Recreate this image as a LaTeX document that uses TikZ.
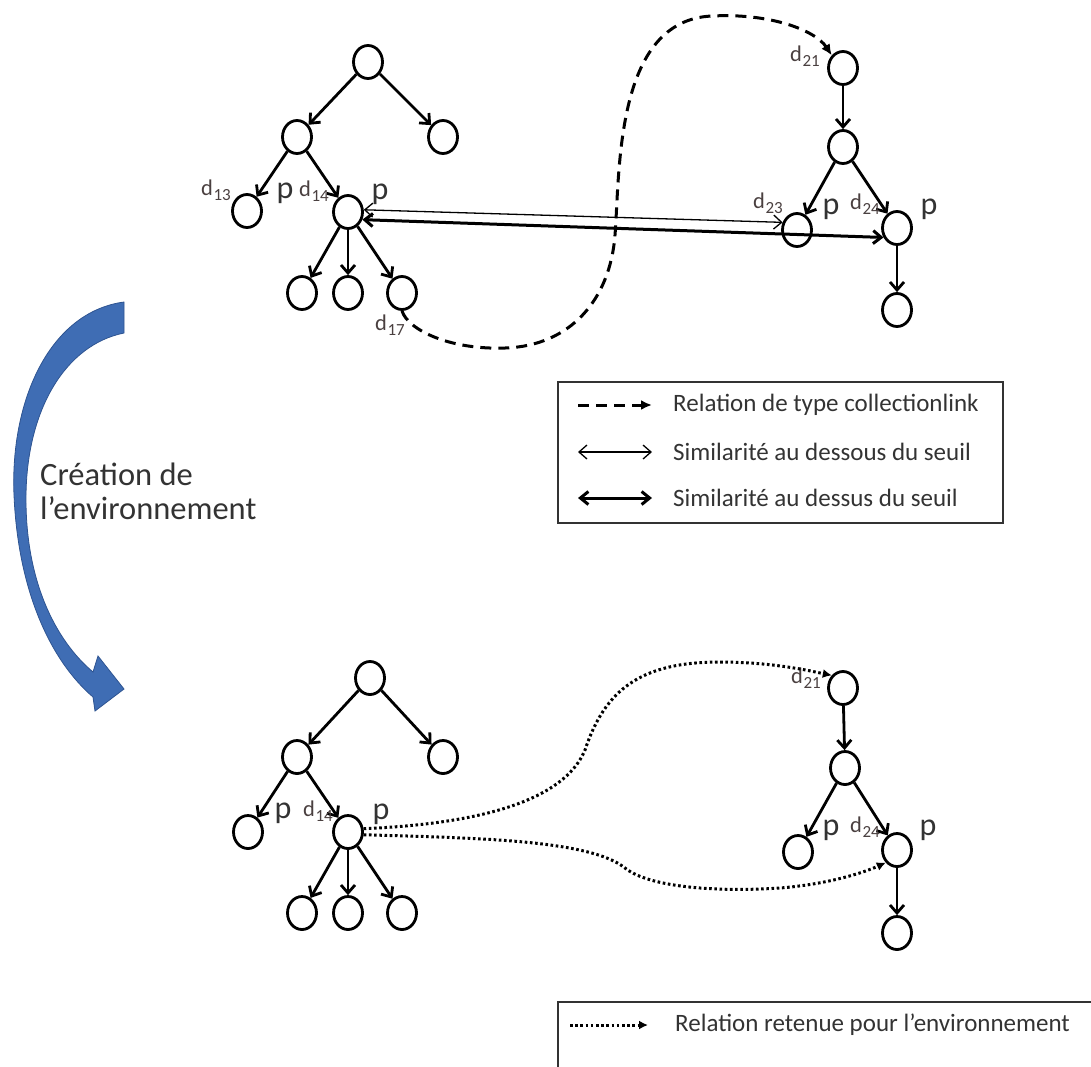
\documentclass[tikz,border=0pt]{standalone}
\usepackage{fontspec}
\setmainfont{Carlito}
\usetikzlibrary{arrows.meta,shapes.geometric}
\definecolor{txtgray}{HTML}{333333}
\definecolor{labgray}{HTML}{4A4040}
\definecolor{bluefill}{HTML}{3F6DB4}
\definecolor{blueedge}{HTML}{2E5491}
\newcommand\dsub[1]{d\kern0.5pt{\fontsize{17}{17}\selectfont\raisebox{-5pt}{#1}}}
\begin{document}
\begin{tikzpicture}[x=1pt,y=-1pt,
  tn/.style={draw,ellipse,line width=2.8pt,minimum width=29pt,minimum height=33pt,inner sep=0pt},
  tedge/.style={line width=2.8pt,-{Straight Barb[length=8pt,width=14pt]}},
  dlab/.style={font=\fontsize{22.5}{24}\selectfont,text=labgray,inner sep=0pt},
  plab/.style={font=\fontsize{32}{34}\selectfont,text=txtgray,inner sep=0pt},
  legtext/.style={font=\fontsize{25}{26}\selectfont,text=txtgray,inner sep=0pt,anchor=west},
  collink/.style={line width=3pt,dash pattern=on 11pt off 7pt,-{Latex[length=11pt,width=10pt]}},
  thinsim/.style={line width=1.3pt,{Straight Barb[length=8pt,width=14pt]}-{Straight Barb[length=8pt,width=14pt]}},
  thicksim/.style={line width=3pt,{Straight Barb[length=8pt,width=13pt]}-{Straight Barb[length=8pt,width=13pt]}},
  envrel/.style={line width=3pt,dash pattern=on 2.6pt off 2.6pt,-{Latex[length=9pt,width=9pt]}},
  legbox/.style={draw=black!80,line width=1.8pt}
]
\useasboundingbox (0,0) rectangle (1091,1066);

% ================= TOP: left tree =================
\node[tn] (a1) at (368,62) {};
\node[tn] (a2) at (297,137) {};
\node[tn] (a3) at (443,137) {};
\node[tn] (a13) at (247,211) {};
\node[tn] (a14) at (348,212) {};
\node[tn] (a15) at (302,293) {};
\node[tn] (a16) at (348,293) {};
\node[tn] (a17) at (402,293) {};
\draw[tedge] (a1) -- (a2);
\draw[tedge] (a1) -- (a3);
\draw[tedge] (a2) -- (a13);
\draw[tedge] (a2) -- (a14);
\draw[tedge] (a14) -- (a15);
\draw[tedge] (a14) -- (a16);
\draw[tedge] (a14) -- (a17);
\node[dlab] (la13) at (216,190) {\dsub{13}};
\node[plab] (lpa1) at (285,193) {p};
\node[dlab] (la14) at (314,191) {\dsub{14}};
\node[plab] (lpa2) at (380,194) {p};
\node[dlab] (la17) at (390,325) {\dsub{17}};

% ================= TOP: right tree =================
\node[tn] (b21) at (843,68) {};
\node[tn] (b22) at (843,147) {};
\node[tn] (b23) at (797,230) {};
\node[tn] (b24) at (897,228) {};
\node[tn] (b25) at (897,310) {};
\draw[tedge] (b21) -- (b22);
\draw[tedge] (b22) -- (b23);
\draw[tedge] (b22) -- (b24);
\draw[tedge] (b24) -- (b25);
\node[dlab] (lb21) at (805,56) {\dsub{21}};
\node[dlab] (lb23) at (768,203) {\dsub{23}};
\node[plab] (lpb1) at (831,209) {p};
\node[dlab] (lb24) at (865,204) {\dsub{24}};
\node[plab] (lpb2) at (929,209) {p};

% similarity links
\draw[thinsim] (a14.8) -- (b23.152);
\draw[thicksim] (a14.-28) -- (b24.215);

% collectionlink
\draw[collink] (a17.south) .. controls (408,330) and (450,350) .. (505,348)
  .. controls (570,346) and (610,300) .. (615,235)
  .. controls (620,170) and (615,20) .. (712,16)
  .. controls (770,13) and (815,30) .. (b21.north west);

% ================= legend 1 =================
\draw[legbox] (558,382) rectangle (1003,523);
\coordinate (l1a) at (578,405); \coordinate (l1b) at (652,405);
\coordinate (l2a) at (578,452); \coordinate (l2b) at (652,452);
\coordinate (l3a) at (578,498); \coordinate (l3b) at (652,498);
\draw[collink] (l1a) -- (l1b);
\draw[thinsim] (l2a) -- (l2b);
\draw[thicksim] (l3a) -- (l3b);
\node[legtext] (t1) at (673,405) {Relation de type collectionlink};
\node[legtext] (t2) at (673,452) {Similarité au dessous du seuil};
\node[legtext] (t3) at (673,498) {Similarité au dessus du seuil};

% ================= blue curved arrow =================
\fill[bluefill,draw=blueedge,line width=0.8pt]
  (124,302) .. controls (50,312) and (10,400) .. (14,495)
  .. controls (18,590) and (50,660) .. (93,697)
  -- (95,711) -- (124,689) -- (98,656) -- (93,672)
  .. controls (55,640) and (25,580) .. (26,495)
  .. controls (27,410) and (65,345) .. (124,333) -- cycle;
\node[font=\fontsize{32.5}{34}\selectfont,text=txtgray,align=left,anchor=west,inner sep=0pt] (crea) at (40,491) {Création de\\l’environnement};

% ================= BOTTOM: left tree =================
\node[tn] (c1) at (370,678) {};
\node[tn] (c2) at (297,757) {};
\node[tn] (c3) at (443,757) {};
\node[tn] (c13) at (248,832) {};
\node[tn] (c14) at (348,832) {};
\node[tn] (c15) at (302,913) {};
\node[tn] (c16) at (348,913) {};
\node[tn] (c17) at (402,913) {};
\draw[tedge] (c1) -- (c2);
\draw[tedge] (c1) -- (c3);
\draw[tedge] (c2) -- (c13);
\draw[tedge] (c2) -- (c14);
\draw[tedge] (c14) -- (c15);
\draw[tedge] (c14) -- (c16);
\draw[tedge] (c14) -- (c17);
\node[plab] (lpc1) at (283,813) {p};
\node[dlab] (lc14) at (318,811) {\dsub{14}};
\node[plab] (lpc2) at (381,814) {p};

% ================= BOTTOM: right tree =================
\node[tn] (d21) at (843,688) {};
\node[tn] (d22) at (845,768) {};
\node[tn] (d23) at (798,852) {};
\node[tn] (d24) at (897,850) {};
\node[tn] (d25) at (897,933) {};
\draw[tedge] (d21) -- (d22);
\draw[tedge] (d22) -- (d23);
\draw[tedge] (d22) -- (d24);
\draw[tedge] (d24) -- (d25);
\node[dlab] (ld21) at (806,678) {\dsub{21}};
\node[plab] (lpd1) at (831,830) {p};
\node[dlab] (ld24) at (865,827) {\dsub{24}};
\node[plab] (lpd2) at (928,830) {p};

% retained relations
\draw[envrel] (c14.12) .. controls (450,825) and (560,810) .. (585,750)
  .. controls (605,690) and (640,662) .. (720,662)
  .. controls (775,662) and (815,672) .. (d21.north west);
\draw[envrel] (c14.-10) .. controls (480,838) and (590,840) .. (625,868)
  .. controls (650,888) and (720,892) .. (780,888)
  .. controls (830,884) and (865,872) .. (d24.south west);

% ================= legend 2 =================
\draw[legbox] (1095,1002) -- (558,1002) -- (558,1070);
\coordinate (l4a) at (570,1025); \coordinate (l4b) at (648,1025);
\draw[envrel] (l4a) -- (l4b);
\node[legtext] (t4) at (675,1025) {Relation retenue pour l’environnement};
\end{tikzpicture}
\end{document}
